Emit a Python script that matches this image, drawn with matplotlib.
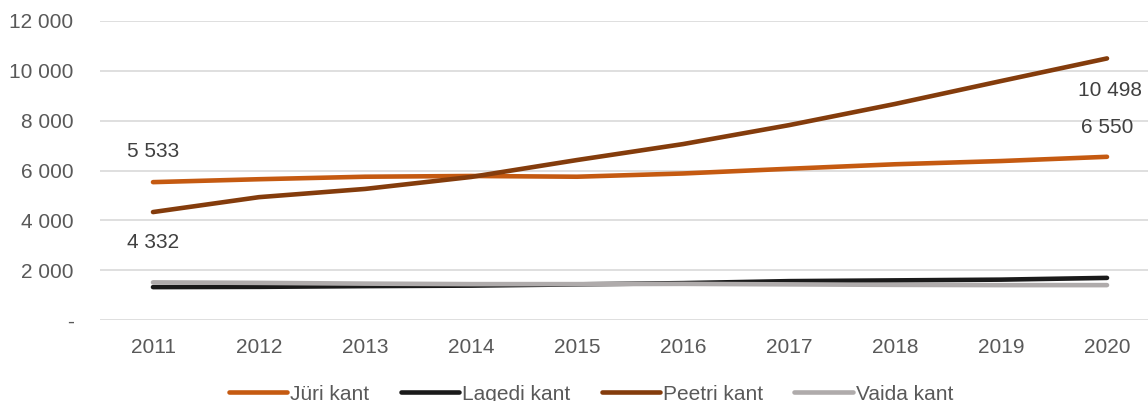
import matplotlib.pyplot as plt
from matplotlib.ticker import FuncFormatter

years = [2011, 2012, 2013, 2014, 2015, 2016, 2017, 2018, 2019, 2020]
juri = [5533, 5650, 5750, 5780, 5750, 5880, 6070, 6250, 6380, 6550]
lagedi = [1320, 1330, 1360, 1380, 1430, 1480, 1560, 1590, 1620, 1690]
peetri = [4332, 4930, 5260, 5740, 6420, 7060, 7820, 8670, 9590, 10498]
vaida = [1510, 1490, 1460, 1440, 1440, 1450, 1430, 1410, 1400, 1400]

plt.rcParams['font.family'] = ['Liberation Sans', 'DejaVu Sans']

fig = plt.figure(figsize=(11.48, 4.01), dpi=100)
ax = fig.add_axes([100 / 1148, 1 - 320 / 401, 1060 / 1148, 299 / 401])

lw = 3.3
ax.plot(years, juri, color='#C55A11', lw=lw, solid_capstyle='round', label='Jüri kant')
ax.plot(years, lagedi, color='#1A1A1A', lw=lw, solid_capstyle='round', label='Lagedi kant')
ax.plot(years, peetri, color='#843C0C', lw=lw, solid_capstyle='round', label='Peetri kant')
ax.plot(years, vaida, color='#AFABAB', lw=lw, solid_capstyle='round', label='Vaida kant')


def fmt(v):
    return f"{v:,.0f}".replace(",", " ")


txt = dict(fontsize=15, color='#404040', ha='center', va='center')
ax.annotate(fmt(juri[0]), (years[0], juri[0]), xytext=(0, 22), textcoords='offset points', **txt)
ax.annotate(fmt(peetri[0]), (years[0], peetri[0]), xytext=(0, -22), textcoords='offset points', **txt)
ax.annotate(fmt(peetri[-1]), (years[-1], peetri[-1]), xytext=(2, -23), textcoords='offset points', **txt)
ax.annotate(fmt(juri[-1]), (years[-1], juri[-1]), xytext=(0, 21), textcoords='offset points', **txt)

ax.set_xlim(2010.5, 2020.5)
ax.set_ylim(0, 12000)
ax.set_xticks(years)
ax.set_yticks(range(0, 12001, 2000))
ax.yaxis.set_major_formatter(FuncFormatter(lambda v, p: '-' if v == 0 else fmt(v)))
ax.grid(axis='y', color='#D9D9D9', lw=1.2)
ax.set_axisbelow(True)
for s in ax.spines.values():
    s.set_visible(False)
ax.tick_params(axis='both', length=0, labelsize=15, colors='#595959')
ax.tick_params(axis='y', pad=19)
ax.tick_params(axis='x', pad=13)

fig.legend(loc='center', bbox_to_anchor=(591 / 1148, 1 - 394 / 401), ncol=4,
           frameon=False, fontsize=15, handlelength=2.8, handletextpad=0.15,
           columnspacing=1.5, labelcolor='#595959')

fig.savefig('out.png', dpi=100)
